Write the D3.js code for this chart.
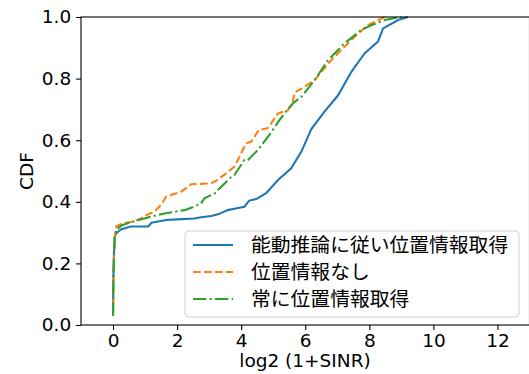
<!DOCTYPE html>
<html>
<head>
<meta charset="utf-8">
<script src="https://cdn.jsdelivr.net/npm/d3@7"></script>
<style>
  body { margin: 0; background: #fff; }
  text { font-family: "DejaVu Sans", "Noto Sans CJK JP", sans-serif; }
</style>
</head>
<body>
<svg id="chart" width="529" height="374"></svg>
<script>
// ======================================================================
// DATA
// ======================================================================

var seriesNames = ["能動推論に従い位置情報取得", "位置情報なし", "常に位置情報取得"];

var activeX = [0, 0.01, 0.03, 0.06, 0.12, 0.25, 0.55, 1.1, 1.2, 1.66, 2.0, 2.53, 2.75, 3.06, 3.3,
               3.58, 3.9, 4.1, 4.25, 4.47, 4.78, 5.15, 5.56, 5.88, 6.19, 6.6, 7.02, 7.44, 7.85,
               8.27, 8.43, 8.9, 9.2];
var activeY = [0.03, 0.15, 0.24, 0.29, 0.30, 0.31, 0.32, 0.32, 0.332, 0.341, 0.343, 0.346, 0.35,
               0.354, 0.36, 0.373, 0.38, 0.384, 0.404, 0.409, 0.428, 0.471, 0.509, 0.563, 0.636,
               0.693, 0.745, 0.822, 0.882, 0.92, 0.963, 0.99, 1.0];

var noneX = [0, 0.01, 0.03, 0.05, 0.1, 0.3, 0.6, 0.875, 1.0, 1.29, 1.5, 1.66, 2.13, 2.44, 3.06,
             3.22, 3.5, 3.79, 3.95, 4.05, 4.16, 4.31, 4.55, 4.83, 5.15, 5.46, 5.6, 5.67, 5.98,
             6.29, 6.81, 7.13, 7.54, 7.96, 8.48];
var noneY = [0.03, 0.12, 0.22, 0.28, 0.32, 0.33, 0.335, 0.346, 0.355, 0.368, 0.39, 0.417, 0.433,
             0.457, 0.46, 0.469, 0.49, 0.514, 0.546, 0.568, 0.59, 0.595, 0.633, 0.639, 0.687,
             0.698, 0.72, 0.755, 0.774, 0.795, 0.86, 0.893, 0.936, 0.974, 1.0];

var alwaysX = [0, 0.01, 0.03, 0.05, 0.1, 0.3, 0.6, 0.98, 1.3, 1.6, 2.23, 2.5, 2.75, 2.85, 3.17,
               3.38, 3.69, 3.79, 4.1, 4.21, 4.52, 4.88, 5.2, 5.35, 5.62, 5.88, 6.29, 6.71, 7.23,
               7.75, 8.1, 8.48, 9.0];
var alwaysY = [0.03, 0.14, 0.23, 0.28, 0.31, 0.325, 0.335, 0.346, 0.355, 0.362, 0.373, 0.383,
               0.395, 0.411, 0.427, 0.449, 0.481, 0.487, 0.536, 0.536, 0.568, 0.617, 0.666,
               0.687, 0.72, 0.741, 0.795, 0.86, 0.915, 0.958, 0.975, 0.99, 1.0];

var xTicks = [0, 2, 4, 6, 8, 10, 12];
var yTicks = [0.0, 0.2, 0.4, 0.6, 0.8, 1.0];

// ======================================================================
// LAYOUT
// ======================================================================

var margin = {left: 81, top: 17, right: 529.5, bottom: 325};
var fontSize = 18.5;
var legendFontSize = 19.8;

var svg = d3.select("#chart");

var x = d3.scaleLinear().domain([-1, 13]).range([margin.left, margin.right]);
var y = d3.scaleLinear().domain([0, 1]).range([margin.bottom, margin.top]);

// line styles, matplotlib defaults at lw 1.5
var styles = [
    {color: "#1f77b4", dash: null},
    {color: "#ff7f0e", dash: "7.7,3.3"},
    {color: "#2ca02c", dash: "13.3,3.3,2.1,3.3"}
];

var series = [
    d3.zip(activeX, activeY),
    d3.zip(noneX, noneY),
    d3.zip(alwaysX, alwaysY)
];

// ======================================================================
// CURVES
// ======================================================================

var line = d3.line()
    .x(function(d) { return x(d[0]); })
    .y(function(d) { return y(d[1]); });

svg.append("defs").append("clipPath").attr("id", "clip")
    .append("rect")
    .attr("x", margin.left).attr("y", margin.top - 2)
    .attr("width", margin.right - margin.left).attr("height", margin.bottom - margin.top + 2);

var curves = svg.append("g").attr("clip-path", "url(#clip)");
series.forEach(function(s, i) {
    curves.append("path")
        .datum(s)
        .attr("d", line)
        .attr("fill", "none")
        .attr("stroke", styles[i].color)
        .attr("stroke-width", 2.08)
        .attr("stroke-dasharray", styles[i].dash);
});

// ======================================================================
// AXES
// ======================================================================

var xAxis = svg.append("g")
    .attr("transform", "translate(0," + margin.bottom + ")")
    .call(d3.axisBottom(x).tickValues(xTicks).tickSize(4.9).tickPadding(3.8).tickSizeOuter(0));

var yAxis = svg.append("g")
    .attr("transform", "translate(" + margin.left + ",0)")
    .call(d3.axisLeft(y).tickValues(yTicks).tickFormat(d3.format(".1f"))
          .tickSize(4.9).tickPadding(4.9).tickSizeOuter(0));

[xAxis, yAxis].forEach(function(a) {
    a.select(".domain").remove();
    a.selectAll("line").attr("stroke", "#000").attr("stroke-width", 1.1);
    a.selectAll("text").attr("font-size", fontSize).attr("fill", "#000")
        .style("font-family", "'DejaVu Sans', sans-serif");
});

// frame
svg.append("rect")
    .attr("x", margin.left).attr("y", margin.top)
    .attr("width", margin.right - margin.left).attr("height", margin.bottom - margin.top)
    .attr("fill", "none").attr("stroke", "#000").attr("stroke-width", 1.1);

svg.append("text")
    .attr("x", (margin.left + 529) / 2).attr("y", 367)
    .attr("text-anchor", "middle").attr("font-size", fontSize)
    .text("log2 (1+SINR)");

svg.append("text")
    .attr("transform", "translate(33," + (margin.top + margin.bottom) / 2 + ") rotate(-90)")
    .attr("text-anchor", "middle").attr("font-size", fontSize)
    .text("CDF");

// ======================================================================
// LEGEND
// ======================================================================

var legend = svg.append("g");
legend.append("rect")
    .attr("x", 185).attr("y", 231).attr("width", 334).attr("height", 86)
    .attr("rx", 4).attr("ry", 4)
    .attr("fill", "#fff").attr("fill-opacity", 0.8)
    .attr("stroke", "#d0d0d0").attr("stroke-width", 1);

seriesNames.forEach(function(name, i) {
    var ly = 245 + i * 27;
    legend.append("line")
        .attr("x1", 193).attr("x2", 233).attr("y1", ly).attr("y2", ly)
        .attr("stroke", styles[i].color).attr("stroke-width", 2.08)
        .attr("stroke-dasharray", styles[i].dash);
    legend.append("text")
        .attr("x", 251).attr("y", ly).attr("dy", "0.36em")
        .attr("font-size", legendFontSize)
        .style("font-family", "'Noto Sans CJK JP', sans-serif")
        .text(name);
});
</script>
</body>
</html>
